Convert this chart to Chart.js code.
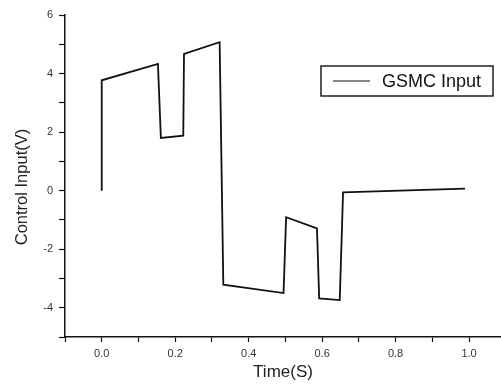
<!DOCTYPE html>
<html>
<head>
<meta charset="utf-8">
<script src="https://cdn.jsdelivr.net/npm/chart.js@4.4.1/dist/chart.umd.min.js"></script>
<style>
  html, body { margin: 0; padding: 0; background: #fff; }
  #wrap { width: 501px; height: 387px; position: relative; }
</style>
</head>
<body>
<div id="wrap"><canvas id="gsmcChart" width="501" height="387"></canvas></div>
<script>
// values
const timeValues = [0, 0, 0.153, 0.161, 0.222, 0.224, 0.321, 0.331, 0.495, 0.502, 0.586, 0.592, 0.648, 0.657, 0.989];
const inputValues = [0, 3.77, 4.33, 1.80, 1.88, 4.67, 5.07, -3.21, -3.50, -0.91, -1.29, -3.68, -3.74, -0.06, 0.07];
const xTickValues = [-0.1, 0, 0.1, 0.2, 0.3, 0.4, 0.5, 0.6, 0.7, 0.8, 0.9, 1.0];
const xTickLabels = ['', '0.0', '', '0.2', '', '0.4', '', '0.6', '', '0.8', '', '1.0'];
const yTickValues = [-5, -4, -3, -2, -1, 0, 1, 2, 3, 4, 5, 6];
const yTickLabels = ['', '-4', '', '-2', '', '0', '', '2', '', '4', '', '6'];
const seriesName = 'GSMC Input';
const yTitle = 'Control Input(V)';

const ctx = document.getElementById('gsmcChart').getContext('2d');
const fontFamily = '"Liberation Sans", Arial, sans-serif';

// legend box inside the plot, top right; y title drawn by hand (sits below centre in the original)
const extras = {
  id: 'extras',
  afterDraw(chart) {
    const c = chart.ctx;
    const ds = chart.data.datasets[0];
    c.save();
    c.strokeStyle = '#111';
    c.lineWidth = 1.4;
    c.strokeRect(321, 66, 172, 30);
    c.beginPath();
    c.lineWidth = 1.2;
    c.moveTo(333, 81);
    c.lineTo(370, 81);
    c.stroke();
    c.fillStyle = '#111';
    c.font = '18px ' + fontFamily;
    c.textBaseline = 'middle';
    c.fillText(ds.label, 382, 82);
    c.restore();

    c.save();
    c.translate(22, 187);
    c.rotate(-Math.PI / 2);
    c.fillStyle = '#222';
    c.font = '16.5px ' + fontFamily;
    c.textAlign = 'center';
    c.textBaseline = 'middle';
    c.fillText(yTitle, 0, 0);
    c.restore();
  }
};

const tickFont = { family: fontFamily, size: 11 };

new Chart(ctx, {
  type: 'line',
  data: {
    datasets: [{
      label: seriesName,
      data: timeValues.map((t, i) => ({ x: t, y: inputValues[i] })),
      borderColor: '#111',
      borderWidth: 1.8,
      pointRadius: 0,
      tension: 0,
      fill: false
    }]
  },
  options: {
    responsive: false,
    animation: false,
    layout: { padding: { top: 15, right: 0, left: 0, bottom: 0 } },
    plugins: { legend: { display: false }, tooltip: { enabled: false } },
    scales: {
      x: {
        type: 'linear',
        min: -0.1,
        max: 1.087,
        afterBuildTicks: s => { s.ticks = xTickValues.map(v => ({ value: v })); },
        afterFit: s => { s.height = 50; },
        ticks: {
          autoSkip: false,
          maxRotation: 0,
          color: '#333',
          font: tickFont,
          padding: 5,
          callback: (v, i) => xTickLabels[i]
        },
        grid: { drawOnChartArea: false, tickLength: 5, tickColor: '#111', tickWidth: 1.2 },
        border: { color: '#111', width: 1.5 },
        title: {
          display: true, text: 'Time(S)', color: '#222',
          font: { family: fontFamily, size: 17 },
          padding: { top: 4 }
        }
      },
      y: {
        type: 'linear',
        min: -5,
        max: 6,
        afterBuildTicks: s => { s.ticks = yTickValues.map(v => ({ value: v })); },
        afterFit: s => { s.width = 65; },
        ticks: {
          autoSkip: false,
          color: '#333',
          font: tickFont,
          padding: 6,
          callback: (v, i) => yTickLabels[i]
        },
        grid: { drawOnChartArea: false, tickLength: 6, tickColor: '#111', tickWidth: 1.2 },
        border: { color: '#111', width: 1.5 }
      }
    }
  },
  plugins: [extras]
});
</script>
</body>
</html>
